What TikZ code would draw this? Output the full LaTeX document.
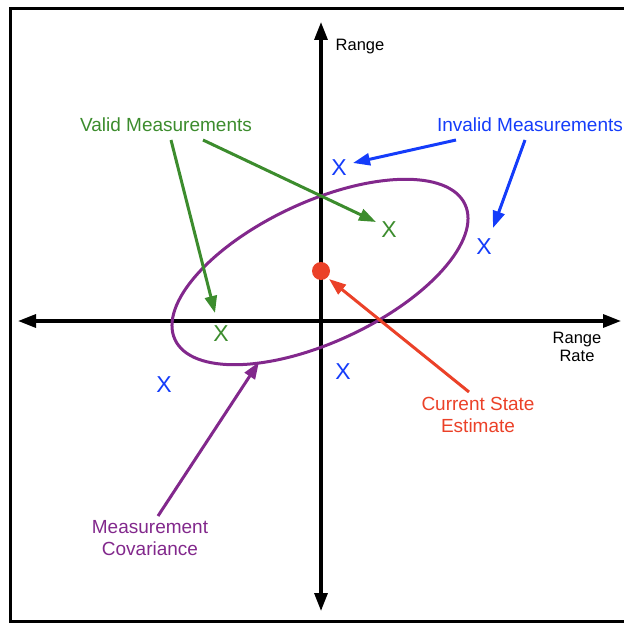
\documentclass[tikz,border=0pt]{standalone}
\usepackage{fontspec}
\setmainfont{Liberation Sans}
\usetikzlibrary{arrows.meta}

\definecolor{validgreen}{RGB}{60,140,45}
\definecolor{invblue}{RGB}{20,60,250}
\definecolor{estred}{RGB}{235,65,40}
\definecolor{covpurple}{RGB}{130,40,140}

\begin{document}
\begin{tikzpicture}[
  x=1pt, y=-1pt,
  lbl/.style={font=\fontsize{19}{22}\selectfont, align=center, inner sep=0pt},
  axlbl/.style={font=\fontsize{16.5}{18}\selectfont, align=center, inner sep=0pt},
  meas/.style={font=\fontsize{23}{23}\selectfont, inner sep=0pt},
  ptr/.style={line width=3pt, -{Triangle[length=17pt,width=12pt]}},
  axis/.style={line width=3.2pt, {Triangle[length=18pt,width=13pt]}-{Triangle[length=18pt,width=13pt]}}
]
  \useasboundingbox (0,0) rectangle (624,623);
  \draw[line width=3pt] (630,9) -- (10,9) -- (10,621) -- (630,621);

  % axes
  \coordinate (xl) at (18,321);
  \coordinate (xr) at (621,321);
  \coordinate (yt) at (321,22);
  \coordinate (yb) at (321,611);
  \draw[axis] (xl) -- (xr);
  \draw[axis] (yb) -- (yt);
  \node[axlbl] (rng)  at (360,47)  {Range};
  \node[axlbl] (rate) at (577,347) {Range\\Rate};

  % covariance and estimate
  \draw[covpurple, line width=3pt, rotate around={25:(320,272)}]
    (320,272) ellipse [x radius=160, y radius=70];
  \node[circle, fill=estred, minimum size=18pt, inner sep=0pt] (est) at (321,271) {};

  % measurements
  \node[meas, text=invblue]    (inv1) at (339,168) {X};
  \node[meas, text=invblue]    (inv2) at (484,247) {X};
  \node[meas, text=invblue]    (inv3) at (164,385) {X};
  \node[meas, text=invblue]    (inv4) at (343,372) {X};
  \node[meas, text=validgreen] (val1) at (389,230) {X};
  \node[meas, text=validgreen] (val2) at (221,334) {X};

  % labels
  \node[lbl, text=validgreen] (valid)   at (166,125) {Valid Measurements};
  \node[lbl, text=invblue]    (invalid) at (530,125) {Invalid Measurements};
  \node[lbl, text=estred]     (cur)     at (478,415) {Current State\\Estimate};
  \node[lbl, text=covpurple]  (cov)     at (150,538) {Measurement\\Covariance};

  % pointers
  \coordinate (v1s) at (171,140);  \coordinate (v1e) at (215,313);
  \coordinate (v2s) at (203,140);  \coordinate (v2e) at (376,222);
  \coordinate (i1s) at (456,140);  \coordinate (i1e) at (353,163);
  \coordinate (i2s) at (525,140);  \coordinate (i2e) at (493,228);
  \coordinate (cs)  at (469,392);  \coordinate (ce)  at (329,279);
  \coordinate (ps)  at (158,516);  \coordinate (pe)  at (259,362);
  \draw[ptr, validgreen] (v1s) -- (v1e);
  \draw[ptr, validgreen] (v2s) -- (v2e);
  \draw[ptr, invblue]    (i1s) -- (i1e);
  \draw[ptr, invblue]    (i2s) -- (i2e);
  \draw[ptr, estred]     (cs)  -- (ce);
  \draw[ptr, covpurple]  (ps)  -- (pe);
\end{tikzpicture}
\end{document}
